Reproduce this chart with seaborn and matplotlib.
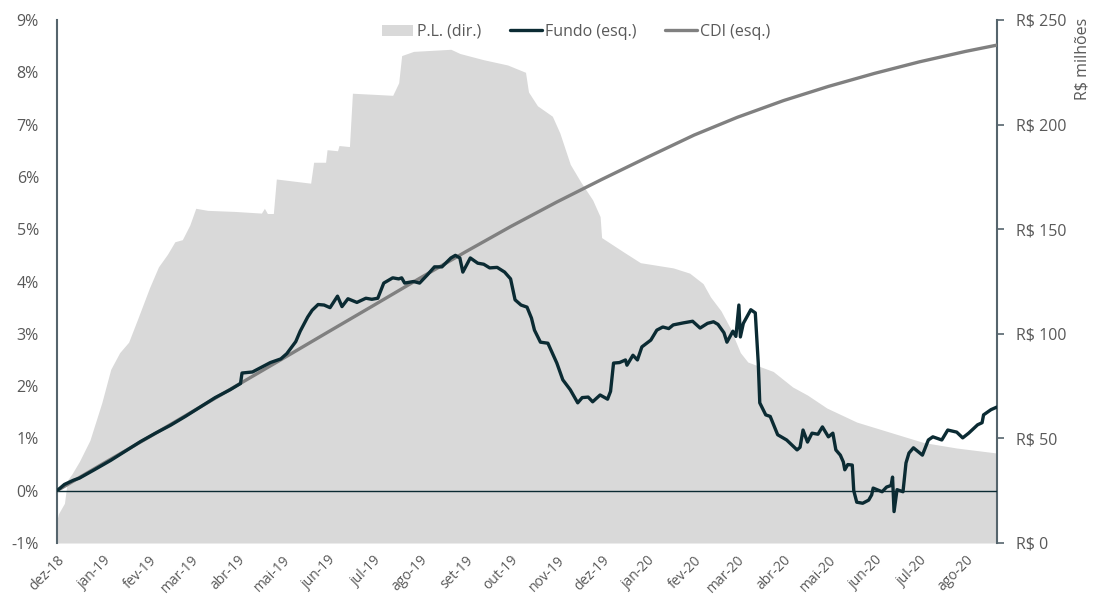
import pandas as pd
import matplotlib
matplotlib.use("Agg")
import matplotlib.pyplot as plt
import matplotlib.ticker as mticker
from matplotlib.patches import Patch
from matplotlib.lines import Line2D
import seaborn as sns

# Data (days since 2018-12-01)
INICIO = "2018-12-01"
FIM = "2020-08-22"

dias_fundo = [0, 5, 11, 15, 25, 36, 46, 56, 66, 76, 86, 96, 106, 116, 123, 124, 131, 137,
              143, 150, 154, 160, 163, 168, 171, 175, 179, 183, 188, 191, 195, 201, 207,
              211, 215, 219, 222, 225, 229, 231, 233, 239, 243, 248, 253, 258, 264, 267,
              270, 272, 277, 282, 286, 290, 295, 300, 304, 307, 311, 315, 318, 320, 324,
              329, 332, 335, 339, 344, 349, 352, 356, 359, 364, 369, 371, 373, 377, 381,
              382, 386, 389, 392, 398, 402, 406, 410, 413, 420, 426, 431, 436, 440, 443,
              447, 449, 453, 455, 457, 458, 460, 465, 468, 470, 471, 475, 478, 483, 489,
              496, 498, 500, 503, 506, 510, 513, 517, 520, 522, 525, 527, 528, 530, 533,
              534, 536, 540, 544, 546, 547, 553, 556, 559, 560, 561, 563, 567, 569, 571,
              574, 580, 584, 587, 593, 597, 603, 607, 611, 617, 620, 621, 626, 630]
fundo = [0.00, 0.12, 0.20, 0.24, 0.40, 0.58, 0.76, 0.94, 1.10, 1.25, 1.42, 1.60, 1.78, 1.93,
         2.05, 2.25, 2.27, 2.36, 2.45, 2.52, 2.62, 2.85, 3.05, 3.32, 3.45, 3.56, 3.55, 3.50,
         3.72, 3.52, 3.67, 3.60, 3.68, 3.66, 3.68, 3.97, 4.02, 4.07, 4.05, 4.07, 3.97, 4.00,
         3.97, 4.12, 4.28, 4.28, 4.45, 4.50, 4.45, 4.18, 4.45, 4.35, 4.33, 4.26, 4.27, 4.18,
         4.05, 3.65, 3.55, 3.51, 3.30, 3.07, 2.84, 2.82, 2.63, 2.44, 2.12, 1.93, 1.68, 1.78,
         1.79, 1.70, 1.83, 1.75, 1.90, 2.44, 2.45, 2.50, 2.40, 2.59, 2.50, 2.75, 2.88, 3.07,
         3.13, 3.10, 3.17, 3.21, 3.24, 3.11, 3.20, 3.23, 3.18, 3.02, 2.84, 3.05, 2.95, 3.55,
         2.94, 3.20, 3.46, 3.40, 2.44, 1.68, 1.45, 1.42, 1.07, 0.97, 0.78, 0.83, 1.16, 0.93,
         1.10, 1.08, 1.22, 1.03, 1.10, 0.78, 0.68, 0.55, 0.40, 0.50, 0.49, 0.00, -0.22,
         -0.24, -0.18, -0.08, 0.05, -0.02, 0.07, 0.10, 0.26, -0.40, 0.02, -0.02, 0.53, 0.72,
         0.82, 0.68, 0.97, 1.03, 0.97, 1.16, 1.12, 1.01, 1.10, 1.26, 1.30, 1.45, 1.55, 1.60]

dias_cdi = [0, 31, 62, 90, 121, 151, 182, 212, 243, 274, 304, 335, 365, 396, 427, 456,
            487, 517, 548, 578, 609, 630]
cdi = [0.00, 0.52, 1.03, 1.50, 2.02, 2.52, 3.04, 3.54, 4.06, 4.57, 5.05, 5.52, 5.95, 6.38,
       6.80, 7.14, 7.46, 7.73, 7.98, 8.20, 8.40, 8.52]

dias_pl = [0, 1, 5, 7, 10, 15, 22, 30, 36, 42, 48, 54, 62, 68, 74, 79, 84, 89, 93, 101,
           119, 137, 139, 141, 145, 147, 170, 172, 180, 181, 188, 189, 196, 198, 225, 229,
           231, 239, 264, 270, 286, 302, 314, 316, 322, 326, 332, 337, 344, 351, 359, 364,
           365, 380, 391, 413, 424, 433, 438, 445, 451, 458, 463, 480, 493, 503, 516, 536,
           558, 581, 603, 630]
pl = [11, 14, 19, 30, 33, 39, 49, 67, 83, 91, 96, 107, 122, 132, 138, 144, 145, 152, 160,
      159, 158.5, 157.7, 160, 157.5, 157.5, 174, 172, 182, 182, 188, 187.5, 190, 189.5,
      215, 214, 220, 233, 235, 236, 234, 231, 228.5, 225, 215.6, 209, 207, 204, 196, 181,
      172.6, 164, 156, 146, 139, 134, 131.5, 129, 124, 117.6, 111, 103, 91, 86.5, 82,
      74.6, 70.7, 64.5, 57.8, 53, 48, 45.4, 43]

meses = ["dez-18", "jan-19", "fev-19", "mar-19", "abr-19", "mai-19", "jun-19", "jul-19",
         "ago-19", "set-19", "out-19", "nov-19", "dez-19", "jan-20", "fev-20", "mar-20",
         "abr-20", "mai-20", "jun-20", "jul-20", "ago-20"]

COR_FUNDO = "#0b2b33"
COR_CDI = "#808080"
COR_PL = "#d9d9d9"
COR_EIXO = "#56656d"
COR_TEXTO = "#595959"

sns.set_theme(style="white")
plt.rcParams['font.family'] = ['Open Sans', 'DejaVu Sans']


def to_dates(dias):
    return pd.Timestamp(INICIO) + pd.to_timedelta(dias, unit="D")


df_fundo = pd.DataFrame({"Data": to_dates(dias_fundo), "Fundo": fundo})
df_cdi = pd.DataFrame({"Data": to_dates(dias_cdi), "CDI": cdi})
df_pl = pd.DataFrame({"Data": to_dates(dias_pl), "PL": pl})

fig = plt.figure(figsize=(10.97, 5.95), dpi=100)
ax = fig.add_axes([57 / 1097, 1 - 543 / 595, 940 / 1097, 523 / 595])
ax2 = ax.twinx()

# P.L. area on the right axis, drawn behind the lines
ax2.fill_between(df_pl["Data"], 0, df_pl["PL"], color=COR_PL, lw=0)
ax2.set_ylim(0, 250)
ax.set_zorder(ax2.get_zorder() + 1)
ax.patch.set_visible(False)

ax.axhline(0, color=COR_FUNDO, lw=1.0, zorder=1)
sns.lineplot(data=df_cdi, x="Data", y="CDI", ax=ax, color=COR_CDI, lw=2.4, zorder=3)
sns.lineplot(data=df_fundo, x="Data", y="Fundo", ax=ax, color=COR_FUNDO, lw=2.4, zorder=4)

ax.set_ylim(-1, 9)
ax.set_xlim(pd.Timestamp(INICIO), pd.Timestamp(FIM))
ax.set_xlabel("")
ax.set_ylabel("")
ax.yaxis.set_major_locator(mticker.MultipleLocator(1))
ax.yaxis.set_major_formatter(mticker.FuncFormatter(lambda v, p: f"{v:.0f}%"))
ax.tick_params(axis="y", length=0, pad=13, labelsize=11.5, labelcolor=COR_TEXTO)

ticks = pd.date_range(INICIO, periods=len(meses), freq="MS")
ax.set_xticks(ticks)
ax.set_xticklabels(meses, rotation=45, ha="right", rotation_mode="anchor")
ax.tick_params(axis="x", length=0, pad=7, labelsize=10, labelcolor=COR_TEXTO)

ax2.yaxis.set_major_locator(mticker.MultipleLocator(50))
ax2.yaxis.set_major_formatter(mticker.FuncFormatter(lambda v, p: f"R$ {v:.0f}"))
ax2.tick_params(axis="y", direction="out", length=5, width=1.2, color=COR_EIXO,
                pad=9, labelsize=11.5, labelcolor=COR_TEXTO)
ax2.set_ylabel("")

for a in (ax, ax2):
    for s in ("top", "bottom"):
        a.spines[s].set_visible(False)
ax.spines["right"].set_visible(False)
ax2.spines["left"].set_visible(False)
ax.spines["left"].set_color(COR_EIXO)
ax.spines["left"].set_linewidth(1.5)
ax2.spines["right"].set_color(COR_EIXO)
ax2.spines["right"].set_linewidth(1.5)

fig.text(1083 / 1097, 1 - 18 / 595, "R$ milhões", rotation=90, ha="center", va="top",
         fontsize=11.5, color=COR_TEXTO)

handles = [Patch(facecolor=COR_PL, edgecolor="none"),
           Line2D([], [], color=COR_FUNDO, lw=2.4),
           Line2D([], [], color=COR_CDI, lw=2.4)]
fig.legend(handles, ["P.L. (dir.)", "Fundo (esq.)", "CDI (esq.)"], loc="center",
           bbox_to_anchor=(576 / 1097, 1 - 32 / 595), ncol=3, frameon=False,
           fontsize=11.5, handlelength=2.0, handletextpad=0.2, columnspacing=1.8,
           labelcolor=COR_TEXTO)

fig.savefig("out.png", dpi=100)
